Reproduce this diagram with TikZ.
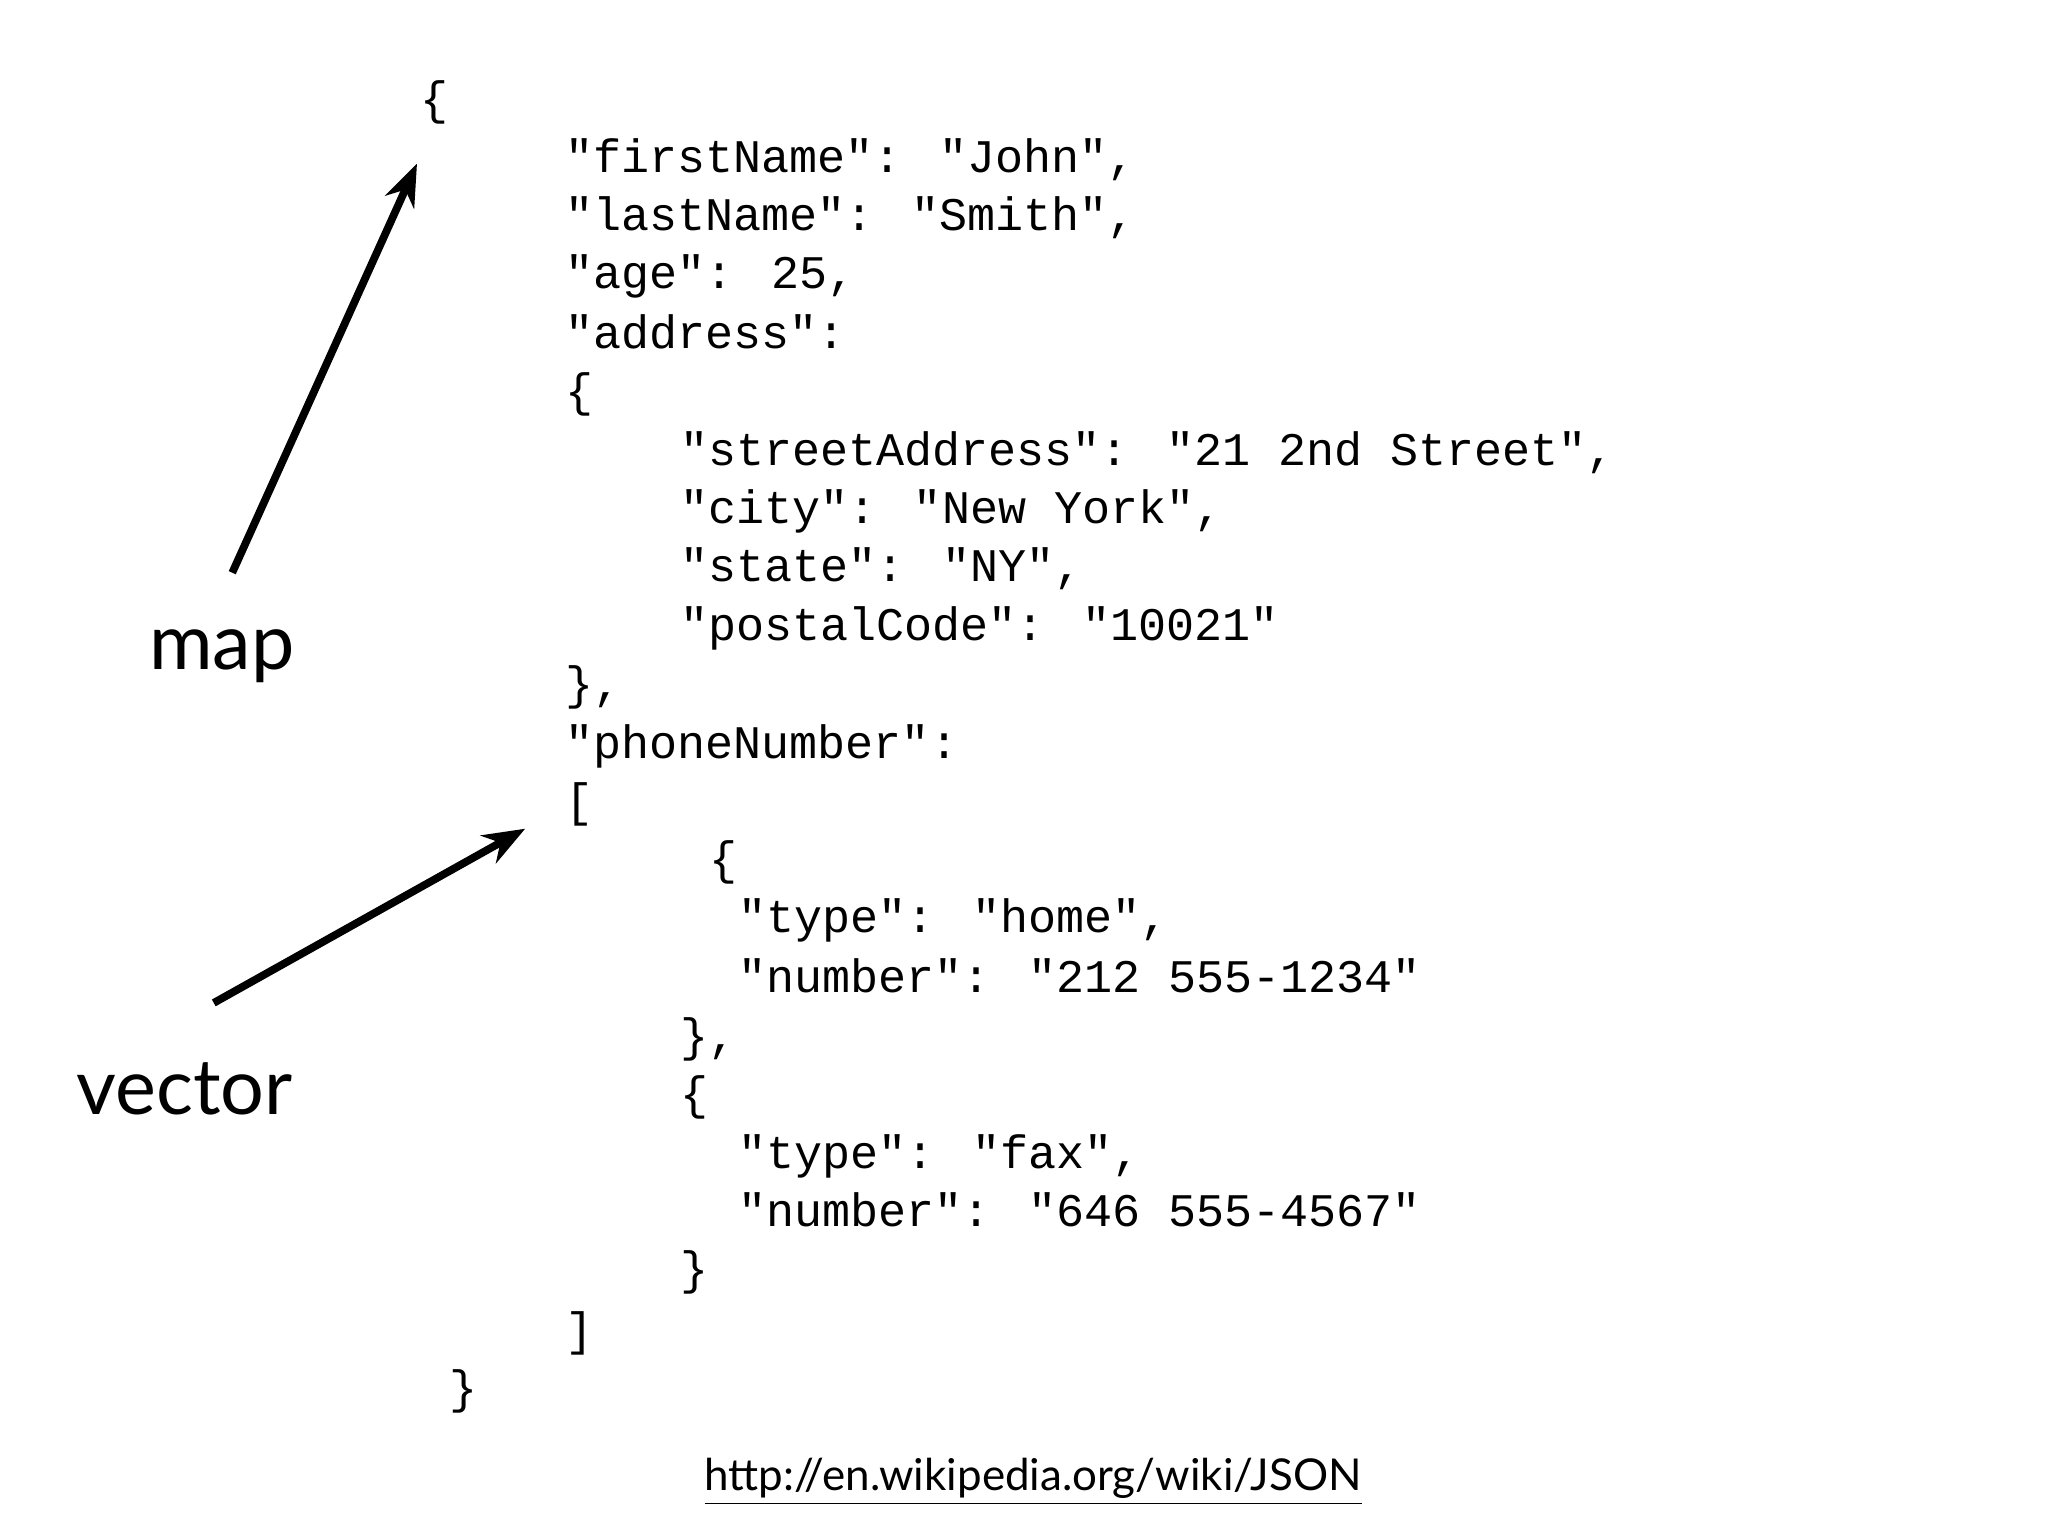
\documentclass[tikz,border=0pt]{standalone}
\usepackage{fontspec}
\usetikzlibrary{arrows.meta}
\setmainfont{Lato}
\newfontfamily\codefont{Liberation Mono}
\begin{document}
\begin{tikzpicture}[x=0.0132cm,y=-0.0132cm,
  code/.style={anchor=mid west,inner sep=0pt,font=\codefont\fontsize{13.3}{16}\selectfont},
  lbl/.style={font=\fontsize{22}{26}\selectfont,inner sep=0pt},
  arr/.style={line width=2.2pt,-{Stealth[length=12pt,width=9pt]}}]
\useasboundingbox (0,0) rectangle (1552,1164);
\node[code] (o1) at (318,80) {\{};
\node[code] (l1) at (428,124) {"firstName": "John",};
\node[code] (l2) at (428,168) {"lastName": "Smith",};
\node[code] (l3) at (428,212) {"age": 25,};
\node[code] (l4) at (428,257) {"address":};
\node[code] (l5) at (428,301) {\{};
\node[code] (l6) at (515,346) {"streetAddress": "21 2nd Street",};
\node[code] (l7) at (515,390) {"city": "New York",};
\node[code] (l8) at (515,434) {"state": "NY",};
\node[code] (l9) at (515,479) {"postalCode": "10021"};
\node[code] (l10) at (428,523) {\},};
\node[code] (l11) at (428,568) {"phoneNumber":};
\node[code] (br) at (428,612) {[};
\node[code] (l13) at (537,656) {\{};
\node[code] (l14) at (559,700) {"type": "home",};
\node[code] (l15) at (559,745) {"number": "212 555-1234"};
\node[code] (l16) at (515,790) {\},};
\node[code] (l17) at (515,834) {\{};
\node[code] (l18) at (559,879) {"type": "fax",};
\node[code] (l19) at (559,923) {"number": "646 555-4567"};
\node[code] (l20) at (515,967) {\}};
\node[code] (l21) at (428,1013) {]};
\node[code] (l22) at (340,1057) {\}};
\node[lbl] (map) at (168,497) {map};
\node[lbl] (vec) at (140,825) {vector};
\node[font=\fontsize{12.5}{15}\selectfont,inner sep=0pt] (url) at (783,1123) {\underline{http://en.wikipedia.org/wiki/JSON}};
\coordinate (ms) at (176,434);
\coordinate (me) at (316,124);
\coordinate (vs) at (162,760);
\coordinate (ve) at (398,628);
\draw[arr] (ms) -- (me);
\draw[arr] (vs) -- (ve);
\end{tikzpicture}
\end{document}
